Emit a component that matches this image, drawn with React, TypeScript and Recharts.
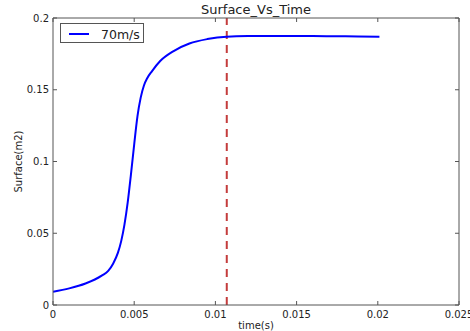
import React from 'react';
import { LineChart, Line, XAxis, YAxis, ReferenceLine, Legend } from 'recharts';

const times = [0, 0.001, 0.002, 0.003, 0.0034, 0.0037, 0.004, 0.0042, 0.0044, 0.0046, 0.0048, 0.005, 0.0052, 0.0054, 0.0056, 0.0058, 0.0061, 0.0066, 0.0074, 0.0084, 0.0095, 0.0107, 0.012, 0.014, 0.016, 0.018, 0.0201];
const surfaces = [0.0093, 0.0116, 0.015, 0.0205, 0.0238, 0.0288, 0.0365, 0.0445, 0.056, 0.0715, 0.091, 0.112, 0.1315, 0.1445, 0.153, 0.158, 0.163, 0.17, 0.1768, 0.1822, 0.1853, 0.187, 0.1874, 0.1875, 0.1874, 0.1872, 0.187];
const xTicks = [0, 0.005, 0.01, 0.015, 0.02, 0.025];
const xTickLabels = ['0', '0.005', '0.01', '0.015', '0.02', '0.025'];
const yTicks = [0, 0.05, 0.1, 0.15, 0.2];
const yTickLabels = ['0', '0.05', '0.1', '0.15', '0.2'];
const markerTime = 0.0107;
const seriesName = '70m/s';
const title = 'Surface_Vs_Time';
const xLabel = 'time(s)';
const yLabel = 'Surface(m2)';

const data = times.map((t, i) => ({ t, surface: surfaces[i] }));

const FONT = 'DejaVu Sans';
const AXIS = '#555';
const TEXT = '#222';
const TL = 4;

const BottomTick = (props: any) => {
  const { x, y, payload } = props;
  const axisY = y - 5;
  const idx = xTicks.indexOf(payload.value);
  return (
    <g>
      <line x1={x} x2={x} y1={axisY} y2={axisY - TL} stroke={AXIS} strokeWidth={1} />
      <text x={x} y={y} dy="0.75em" textAnchor="middle" fontSize={10} fill={TEXT} fontFamily={FONT}>
        {idx >= 0 ? xTickLabels[idx] : String(payload.value)}
      </text>
    </g>
  );
};

const TopTick = (props: any) => {
  const { x, y } = props;
  return <line x1={x} x2={x} y1={y} y2={y + TL} stroke={AXIS} strokeWidth={1} />;
};

const LeftTick = (props: any) => {
  const { x, y, payload } = props;
  const axisX = x + 4;
  const idx = yTicks.indexOf(payload.value);
  return (
    <g>
      <line x1={axisX} x2={axisX + TL} y1={y} y2={y} stroke={AXIS} strokeWidth={1} />
      <text x={x} y={y} dy="0.35em" textAnchor="end" fontSize={10} fill={TEXT} fontFamily={FONT}>
        {idx >= 0 ? yTickLabels[idx] : String(payload.value)}
      </text>
    </g>
  );
};

const RightTick = (props: any) => {
  const { x, y } = props;
  return <line x1={x} x2={x - TL} y1={y} y2={y} stroke={AXIS} strokeWidth={1} />;
};

const LegendBox = () => (
  <div
    style={{
      width: 82,
      height: 18,
      border: '1px solid #555',
      background: '#fff',
      position: 'relative',
      fontFamily: FONT,
    }}
  >
    <svg width={82} height={18} style={{ position: 'absolute', left: 0, top: 0 }}>
      <line x1={8} x2={28} y1={10} y2={10} stroke="#0000ff" strokeWidth={2} />
      <text x={40} y={14.5} fontSize={12.5} fill={TEXT} fontFamily={FONT}>{seriesName}</text>
    </svg>
  </div>
);

export default function App() {
  return (
    <div style={{ position: 'absolute', left: 0, top: 0, width: 470, height: 331, background: '#fff' }}>
      <LineChart
        width={470}
        height={331}
        data={data}
        margin={{ top: 17, right: 10, bottom: 0, left: 0 }}
        style={{ fontFamily: FONT }}
      >
        <XAxis
          xAxisId="b"
          dataKey="t"
          type="number"
          domain={[0, 0.025]}
          ticks={xTicks}
          allowDataOverflow
          height={26}
          tickSize={0}
          tickMargin={5}
          tickLine={false}
          axisLine={{ stroke: AXIS, strokeWidth: 1 }}
          tick={<BottomTick />}
          interval={0}
          label={{ value: xLabel, position: 'insideBottom', offset: 2, fontSize: 10, fill: TEXT, fontFamily: FONT }}
        />
        <XAxis
          xAxisId="top"
          orientation="top"
          dataKey="t"
          type="number"
          domain={[0, 0.025]}
          ticks={xTicks}
          allowDataOverflow
          height={1}
          tickSize={0}
          tickMargin={0}
          tickLine={false}
          axisLine={{ stroke: AXIS, strokeWidth: 1 }}
          tick={<TopTick />}
          interval={0}
          label={(p: any) => {
            const vb = p.viewBox || {};
            return (
              <text x={(vb.x ?? 53) + (vb.width ?? 406) / 2} y={14} textAnchor="middle" fontSize={13} fill={TEXT} fontFamily={FONT}>
                {title}
              </text>
            );
          }}
        />
        <YAxis
          yAxisId="l"
          type="number"
          domain={[0, 0.2]}
          ticks={yTicks}
          allowDataOverflow
          width={53}
          tickSize={0}
          tickMargin={4}
          tickLine={false}
          axisLine={{ stroke: AXIS, strokeWidth: 1 }}
          tick={<LeftTick />}
          interval={0}
          label={(p: any) => {
            const vb = p.viewBox || {};
            const cx = 18;
            const cy = (vb.y ?? 18) + (vb.height ?? 287) / 2;
            return (
              <text x={cx} y={cy} transform={`rotate(-90, ${cx}, ${cy})`} textAnchor="middle" dominantBaseline="central" fontSize={10} fill={TEXT} fontFamily={FONT}>
                {yLabel}
              </text>
            );
          }}
        />
        <YAxis
          yAxisId="r"
          orientation="right"
          type="number"
          domain={[0, 0.2]}
          ticks={yTicks}
          allowDataOverflow
          width={1}
          tickSize={0}
          tickMargin={0}
          tickLine={false}
          axisLine={{ stroke: AXIS, strokeWidth: 1 }}
          tick={<RightTick />}
          interval={0}
        />
        <Legend
          verticalAlign="middle"
          align="center"
          layout="horizontal"
          wrapperStyle={{ position: 'absolute', left: 60, top: 23, width: 'auto', height: 'auto', margin: 0, padding: 0 }}
          content={() => <LegendBox />}
        />
        <ReferenceLine
          xAxisId="b"
          yAxisId="l"
          x={markerTime}
          stroke="#c43c3c"
          strokeWidth={2}
          strokeDasharray="8 6"
        />
        <Line
          xAxisId="b"
          yAxisId="l"
          type="monotone"
          dataKey="surface"
          name={seriesName}
          stroke="#0000ff"
          strokeWidth={2}
          dot={false}
          isAnimationActive={false}
        />
      </LineChart>
    </div>
  );
}
